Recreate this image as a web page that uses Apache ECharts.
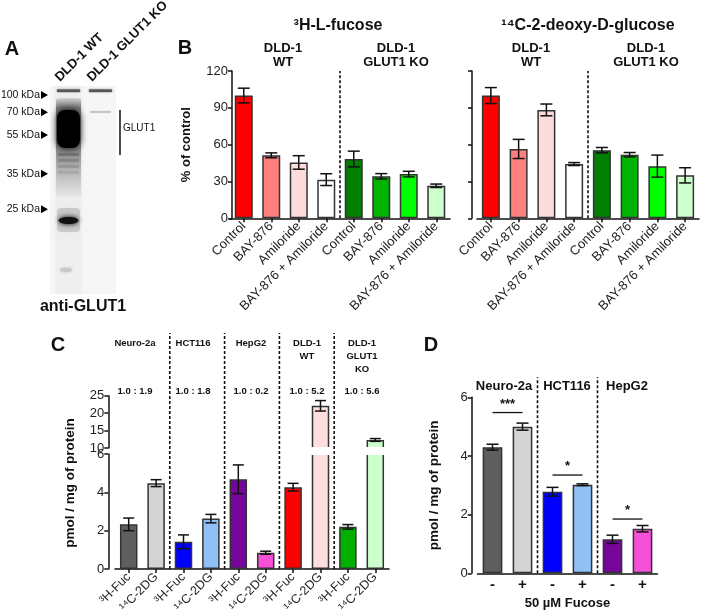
<!DOCTYPE html>
<html><head><meta charset="utf-8">
<script src="https://cdn.jsdelivr.net/npm/echarts@6/dist/echarts.min.js"></script>
<style>html,body{margin:0;padding:0;background:#fff}#c{width:705px;height:616px}</style>
</head><body><div id="c"></div>
<script>
const FONT = '"Liberation Sans", Arial, Helvetica, sans-serif';

// ---------- Panel B data ----------
const bCategories = ['Control', 'BAY-876', 'Amiloride', 'BAY-876 + Amiloride', 'Control', 'BAY-876', 'Amiloride', 'BAY-876 + Amiloride'];
const bColors = ['#ff0000', '#ff7f7f', '#ffdcdc', '#ffffff', '#007f00', '#00b400', '#00ff00', '#ccffcc'];
const fucoseValues = [100, 51.3, 45.5, 31.5, 48.3, 34.2, 36.0, 26.5];
const fucoseErrors = [6.0, 2.0, 5.5, 4.8, 6.4, 2.2, 2.3, 1.4];
const dgValues = [100, 56.5, 88.3, 44.2, 55.5, 51.8, 42.5, 35.0];
const dgErrors = [6.5, 7.8, 4.8, 1.2, 2.2, 1.8, 9.0, 6.2];
const bTicks = [0, 30, 60, 90, 120];
const bSeparators = [3];

// ---------- Panel C data ----------
const cCategories = ['³H-Fuc', '¹⁴C-2DG', '³H-Fuc', '¹⁴C-2DG', '³H-Fuc', '¹⁴C-2DG', '³H-Fuc', '¹⁴C-2DG', '³H-Fuc', '¹⁴C-2DG'];
const cColors = ['#5f5f5f', '#d4d4d4', '#0000ff', '#8fc1f7', '#76069a', '#f64fd8', '#ff0000', '#ffdede', '#00b000', '#ccffcc'];
const cValues = [2.33, 4.48, 1.42, 2.63, 4.68, 0.85, 4.27, 22.1, 2.20, 12.3];
const cErrors = [0.33, 0.18, 0.36, 0.22, 0.75, 0.08, 0.20, 1.5, 0.12, 0.4];
const cGroups = ['Neuro-2a', 'HCT116', 'HepG2', 'DLD-1\nWT', 'DLD-1\nGLUT1\nKO'];
const cRatios = ['1.0 : 1.9', '1.0 : 1.8', '1.0 : 0.2', '1.0 : 5.2', '1.0 : 5.6'];
const cSeparators = [1, 3, 5, 7];
const cLowerTicks = [0, 6, 2];   // min, max, interval
const cUpperTicks = [10, 25, 5];

// ---------- Panel D data ----------
const dCategories = ['-', '+', '-', '+', '-', '+'];
const dColors = ['#5f5f5f', '#d4d4d4', '#0000ff', '#8fc1f7', '#76069a', '#f64fd8'];
const dValues = [4.30, 5.00, 2.78, 3.02, 1.16, 1.52];
const dErrors = [0.10, 0.12, 0.15, 0.03, 0.14, 0.11];
const dGroups = ['Neuro-2a', 'HCT116', 'HepG2'];
const dSeparators = [1, 3];
const dSigStart = [0, 2, 4];
const dSigEnd = [1, 3, 5];
const dSigLevel = [5.48, 3.35, 1.85];
const dSigLabel = ['***', '*', '*'];

// ---------- helpers ----------
const AX = '#111';
function barSeries(xi, yi, values, colors, width) {
  return {
    type: 'bar', xAxisIndex: xi, yAxisIndex: yi, barWidth: width, z: 2,
    data: values.map((v, i) => ({ value: v, itemStyle: { color: colors[i], borderColor: '#333', borderWidth: 1.5 } })),
    silent: true
  };
}
function errorSeries(xi, yi, values, errors, capHalf, filter) {
  const data = [];
  values.forEach((v, i) => { if (!filter || filter(v, errors[i])) data.push([i, v - errors[i], v + errors[i]]); });
  return {
    type: 'custom', xAxisIndex: xi, yAxisIndex: yi, z: 4, silent: true,
    encode: { x: 0, y: [1, 2] }, data,
    renderItem: (params, api) => {
      const x = api.value(0);
      const lo = api.coord([x, api.value(1)]);
      const hi = api.coord([x, api.value(2)]);
      const style = { stroke: '#111', lineWidth: 1.5 };
      return { type: 'group', children: [
        { type: 'line', shape: { x1: lo[0], y1: lo[1], x2: hi[0], y2: hi[1] }, style },
        { type: 'line', shape: { x1: lo[0] - capHalf, y1: lo[1], x2: lo[0] + capHalf, y2: lo[1] }, style },
        { type: 'line', shape: { x1: hi[0] - capHalf, y1: hi[1], x2: hi[0] + capHalf, y2: hi[1] }, style }
      ] };
    }
  };
}
function separatorSeries(xi, yi, seps, yMin, extTop) {
  return {
    type: 'custom', xAxisIndex: xi, yAxisIndex: yi, z: 6, silent: true,
    encode: { x: 0 }, data: seps.map(s => [s]),
    renderItem: (params, api) => {
      const i = api.value(0);
      const a = api.coord([i, yMin]);
      const b = api.coord([i + 1, yMin]);
      const x = (a[0] + b[0]) / 2;
      return { type: 'line', shape: { x1: x, y1: a[1], x2: x, y2: params.coordSys.y - extTop },
        style: { stroke: '#111', lineWidth: 1.6, lineDash: [3, 2] } };
    }
  };
}
function valueAxis(gi, min, max, interval, showLabel, offset, extra) {
  return Object.assign({
    type: 'value', gridIndex: gi, min, max, interval, offset,
    axisLine: { show: true, lineStyle: { color: AX, width: 1.5 } },
    axisTick: { show: true, length: 4, lineStyle: { color: AX, width: 1.5 } },
    splitLine: { show: false },
    axisLabel: { show: showLabel, color: '#222', fontSize: 13, fontFamily: FONT, margin: 4 }
  }, extra || {});
}
function catAxis(gi, data, extra) {
  return Object.assign({
    type: 'category', gridIndex: gi, data,
    axisLine: { show: true, lineStyle: { color: AX, width: 1.5 } },
    axisTick: { show: true, alignWithLabel: true, length: 4, lineStyle: { color: AX, width: 1.5 } },
    axisLabel: { interval: 0, rotate: 45, color: '#222', fontSize: 13, fontFamily: FONT, margin: 6 }
  }, extra || {});
}
function T(x, y, text, size, bold, styleExtra, elExtra) {
  const el = { type: 'text', x, y, silent: true, z: 10,
    style: Object.assign({ text, fontSize: size, fontWeight: bold ? 'bold' : 'normal', fontFamily: FONT,
      fill: '#111', align: 'center', verticalAlign: 'middle' }, styleExtra || {}) };
  return Object.assign(el, elExtra || {});
}

// ---------- Panel A (blot) graphics ----------
const blot = [];
blot.push({ type: 'rect', shape: { x: 50, y: 86, width: 66, height: 208 }, style: { fill: '#f6f6f6' } });
blot.push({ type: 'rect', shape: { x: 55, y: 86, width: 27, height: 208 }, style: { fill: '#efefef' } });
// lane 1 smear
blot.push({ type: 'rect', shape: { x: 56, y: 98, width: 25, height: 100, r: 3 },
  style: { fill: new echarts.graphic.LinearGradient(0, 0, 0, 1, [
    { offset: 0, color: 'rgba(0,0,0,0.10)' }, { offset: 0.1, color: 'rgba(0,0,0,0.45)' },
    { offset: 0.5, color: 'rgba(0,0,0,0.40)' }, { offset: 0.7, color: 'rgba(0,0,0,0.22)' },
    { offset: 1, color: 'rgba(0,0,0,0.02)' }]), shadowBlur: 5, shadowColor: 'rgba(0,0,0,0.25)' } });
blot.push({ type: 'rect', shape: { x: 57, y: 110, width: 23, height: 38, r: 8 }, style: { fill: '#000', shadowBlur: 7, shadowColor: '#000' } });
[153, 159, 165, 171].forEach((y, k) => blot.push({ type: 'rect', shape: { x: 58, y, width: 21, height: 3 },
  style: { fill: 'rgba(0,0,0,' + (0.18 - k * 0.035) + ')', shadowBlur: 3, shadowColor: 'rgba(0,0,0,0.2)' } }));
// 100 kDa bands
blot.push({ type: 'rect', shape: { x: 57, y: 89.5, width: 23, height: 2.5 }, style: { fill: '#555', shadowBlur: 2, shadowColor: '#555' } });
blot.push({ type: 'rect', shape: { x: 89, y: 89.5, width: 23, height: 2.5 }, style: { fill: '#555', shadowBlur: 2, shadowColor: '#555' } });
// lane 2 faint band
blot.push({ type: 'rect', shape: { x: 90, y: 111, width: 21, height: 1.8 }, style: { fill: '#c4c4c4', shadowBlur: 1, shadowColor: '#ccc' } });
// 25 kDa region
blot.push({ type: 'rect', shape: { x: 57, y: 208, width: 23, height: 24, r: 4 }, style: { fill: 'rgba(0,0,0,0.14)', shadowBlur: 6, shadowColor: 'rgba(0,0,0,0.2)' } });
blot.push({ type: 'ellipse', shape: { cx: 68.5, cy: 220.5, rx: 10, ry: 3.5 }, style: { fill: '#111', shadowBlur: 5, shadowColor: '#000' } });
blot.push({ type: 'ellipse', shape: { cx: 66, cy: 270, rx: 6, ry: 2 }, style: { fill: '#c8c8c8', shadowBlur: 3, shadowColor: '#bbb' } });

const markers = [['100 kDa', 95], ['70 kDa', 112.3], ['55 kDa', 135], ['35 kDa', 173.7], ['25 kDa', 209.3]];
markers.forEach(([t, y]) => {
  blot.push(T(40, y, t, 10.5, false, { align: 'right' }));
  blot.push({ type: 'polygon', shape: { points: [[41, y - 4], [41, y + 4], [48, y]] }, style: { fill: '#000' } });
});
blot.push({ type: 'line', shape: { x1: 120, y1: 110, x2: 120, y2: 155 }, style: { stroke: '#111', lineWidth: 1.5 } });
blot.push(T(123, 128, 'GLUT1', 10, false, { align: 'left' }));
blot.push(T(62, 84, 'DLD-1 WT', 13, true, { align: 'left', verticalAlign: 'bottom' }, { rotation: Math.PI / 4 }));
blot.push(T(94, 84, 'DLD-1 GLUT1 KO', 13, true, { align: 'left', verticalAlign: 'bottom' }, { rotation: Math.PI / 4 }));
blot.push(T(83, 307, 'anti-GLUT1', 16, true));
blot.push(T(12, 49, 'A', 20, true));

// ---------- other text ----------
const texts = [];
texts.push(T(185, 48, 'B', 20, true));
texts.push(T(338, 26, '³H-L-fucose', 16, true));
texts.push(T(283, 55, 'DLD-1\nWT', 13, true, { lineHeight: 14 }));
texts.push(T(396, 55, 'DLD-1\nGLUT1 KO', 13, true, { lineHeight: 14 }));
texts.push(T(588, 26, '¹⁴C-2-deoxy-D-glucose', 16, true));
texts.push(T(531, 55, 'DLD-1\nWT', 13, true, { lineHeight: 14 }));
texts.push(T(646, 55, 'DLD-1\nGLUT1 KO', 13, true, { lineHeight: 14 }));
texts.push(T(58, 345, 'C', 20, true));
const cTitleX = [135, 193, 251, 307, 362];
cGroups.forEach((g, k) => texts.push(T(cTitleX[k], 337, g, 9.5, true, { verticalAlign: 'top', lineHeight: 13 })));
cRatios.forEach((r, k) => texts.push(T(cTitleX[k], 391, r, 9.5, true)));
texts.push(T(70, 483, 'pmol / mg of protein', 13.5, true, {}, { rotation: Math.PI / 2 }));
texts.push(T(431, 345, 'D', 20, true));
const dTitleX = [504, 567, 627];
dGroups.forEach((g, k) => texts.push(T(dTitleX[k], 386, g, 13, true)));

// ---------- chart ----------
const chart = echarts.init(document.getElementById('c'), null, { renderer: 'canvas' });
const option = {
  animation: false,
  textStyle: { fontFamily: FONT },
  grid: [
    { left: 230, top: 71, width: 220, height: 147.3 },      // B left
    { left: 477, top: 71, width: 222, height: 147.3 },      // B right
    { left: 115, top: 395.7, width: 274, height: 52.3 },    // C upper
    { left: 115, top: 454, width: 274, height: 120 },       // C lower
    { left: 477.5, top: 397.3, width: 180, height: 176 }    // D
  ],
  xAxis: [
    catAxis(0, bCategories),
    catAxis(1, bCategories),
    catAxis(2, cCategories, { show: false }),
    catAxis(3, cCategories, { axisLabel: { interval: 0, rotate: 45, color: '#222', fontSize: 12.5, fontFamily: FONT, margin: 6 } }),
    catAxis(4, dCategories, {
      axisTick: { show: false },
      axisLabel: { interval: 0, rotate: 0, color: '#111', fontSize: 15, fontWeight: 'bold', fontFamily: FONT, margin: 4 },
      name: '50 µM Fucose', nameLocation: 'middle', nameGap: 24,
      nameTextStyle: { fontSize: 13, fontWeight: 'bold', color: '#111', fontFamily: FONT }
    })
  ],
  yAxis: [
    valueAxis(0, bTicks[0], bTicks[bTicks.length - 1], bTicks[1] - bTicks[0], true, -2, {
      name: '% of control', nameLocation: 'middle', nameGap: 39,
      nameTextStyle: { fontSize: 13, fontWeight: 'bold', color: '#111', fontFamily: FONT } }),
    valueAxis(1, bTicks[0], bTicks[bTicks.length - 1], bTicks[1] - bTicks[0], false, 5),
    valueAxis(2, cUpperTicks[0], cUpperTicks[1], cUpperTicks[2], true, 6.7),
    valueAxis(3, cLowerTicks[0], cLowerTicks[1], cLowerTicks[2], true, 6.7),
    valueAxis(4, 0, 6, 2, true, 5.8, {
      name: 'pmol / mg of protein', nameLocation: 'middle', nameGap: 30,
      nameTextStyle: { fontSize: 13.5, fontWeight: 'bold', color: '#111', fontFamily: FONT } })
  ],
  series: [
    barSeries(0, 0, fucoseValues, bColors, 18),
    errorSeries(0, 0, fucoseValues, fucoseErrors, 6),
    separatorSeries(0, 0, bSeparators, 0, 0),
    barSeries(1, 1, dgValues, bColors, 18),
    errorSeries(1, 1, dgValues, dgErrors, 6),
    separatorSeries(1, 1, bSeparators, 0, 0),
    // C upper (broken axis part)
    barSeries(2, 2, cValues.map(v => v > cUpperTicks[0] ? v : '-'), cColors, 17.5),
    errorSeries(2, 2, cValues, cErrors, 5.5, (v) => v > cUpperTicks[0]),
    // C lower
    barSeries(3, 3, cValues, cColors, 17.5),
    errorSeries(3, 3, cValues, cErrors, 5.5, (v, e) => v + e <= cLowerTicks[1]),
    {
      type: 'custom', xAxisIndex: 3, yAxisIndex: 3, z: 3, silent: true, encode: { x: 0 },
      data: cValues.map((v, i) => [i, v]).filter(d => d[1] > cLowerTicks[1]),
      renderItem: (params, api) => {
        const p = api.coord([api.value(0), cLowerTicks[1]]);
        return { type: 'rect', shape: { x: p[0] - 11, y: p[1] - 7, width: 22, height: 8 }, style: { fill: '#fff' } };
      }
    },
    separatorSeries(3, 3, cSeparators, 0, 121),
    // D
    barSeries(4, 4, dValues, dColors, 19.7),
    errorSeries(4, 4, dValues, dErrors, 6),
    separatorSeries(4, 4, dSeparators, 0, 20),
    {
      type: 'custom', xAxisIndex: 4, yAxisIndex: 4, z: 4, silent: true, encode: { x: [0, 1], y: 2 },
      data: dSigStart.map((s, k) => [s, dSigEnd[k], dSigLevel[k]]),
      renderItem: (params, api) => {
        const a = api.coord([api.value(0), api.value(2)]);
        const b = api.coord([api.value(1), api.value(2)]);
        return { type: 'group', children: [
          { type: 'line', shape: { x1: a[0], y1: a[1], x2: b[0], y2: b[1] }, style: { stroke: '#111', lineWidth: 1.3 } },
          { type: 'text', x: (a[0] + b[0]) / 2, y: a[1] - 2,
            style: { text: dSigLabel[params.dataIndex], fontSize: 13, fontWeight: 'bold', fontFamily: FONT, fill: '#111', align: 'center', verticalAlign: 'bottom' } }
        ] };
      }
    }
  ],
  graphic: { elements: blot.concat(texts) }
};
chart.setOption(option);
</script>
</body></html>
